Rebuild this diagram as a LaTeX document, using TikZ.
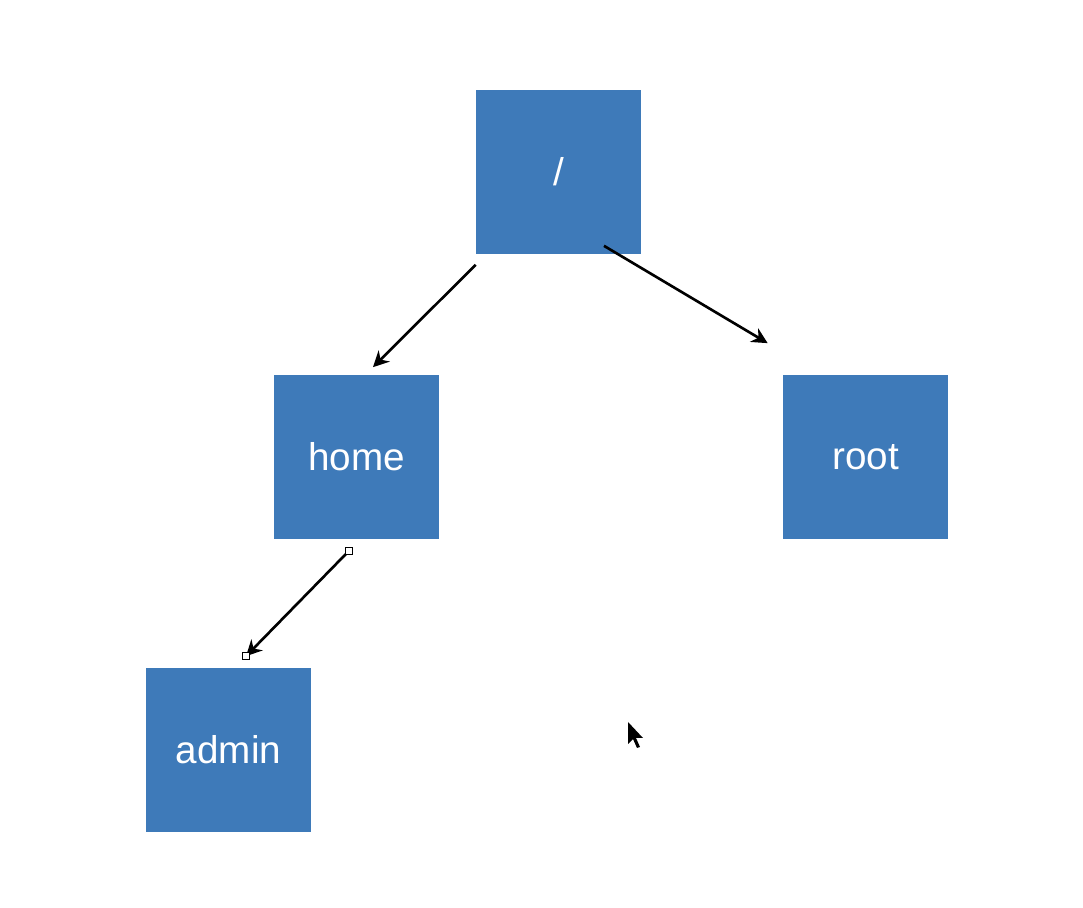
\documentclass[tikz,border=0pt]{standalone}
\usepackage{fontspec}
\setmainfont{Liberation Sans}
\usepackage{tikz}
\usetikzlibrary{positioning, arrows, arrows.meta}
\definecolor{azul}{RGB}{62,122,185}
\tikzset{
	>={Stealth[length=9pt, width=9pt]}, % Puntas de flecha gruesas
	carpeta/.style={fill=azul, text=white, minimum size=3.3cm, inner sep=0pt, font=\fontsize{22}{26}\selectfont}, % Propiedades de los nodos
	flecha/.style={->, line width=1.5pt}, % Propiedades de los arcos
	asa/.style={draw=black, fill=white, line width=0.5pt, minimum size=0.15cm, inner sep=0pt} % Cuadritos de los extremos
}

\begin{document}
\begin{tikzpicture}[x=0.02cm, y=-0.02cm]
			\useasboundingbox (0,0) rectangle (1083,908);
			\node[carpeta] (raiz) at (558.5,172) {/};
			\node[carpeta] (home) at (356.5,457) {home};
			\node[carpeta] (root) at (865.5,457) {root};
			\node[carpeta] (admin) at (228.5,750) {admin};
			\coordinate (a1) at ([shift={(0,10)}]raiz.south west);
			\coordinate (b1) at ([shift={(16.5,-7)}]home.north);
			\coordinate (a2) at ([shift={(45.5,-9)}]raiz.south);
			\coordinate (b2) at ([shift={(-15,-31)}]root.north west);
			\coordinate (a3) at ([shift={(-7.5,11)}]home.south);
			\coordinate (b3) at ([shift={(17.5,-11)}]admin.north);
			\draw	(a1) edge[flecha] (b1)
					(a2) edge[flecha] (b2)
					(a3) edge[flecha] (b3)
					;
			\node[asa] at (a3) {};
			\node[asa] at (b3) {};
			% puntero del raton
			\fill[black] (628,722) -- (628,744) -- (633,739) -- (637,748) -- (640,747) -- (636,738) -- (643,738) -- cycle;
			\end{tikzpicture}
\end{document}
